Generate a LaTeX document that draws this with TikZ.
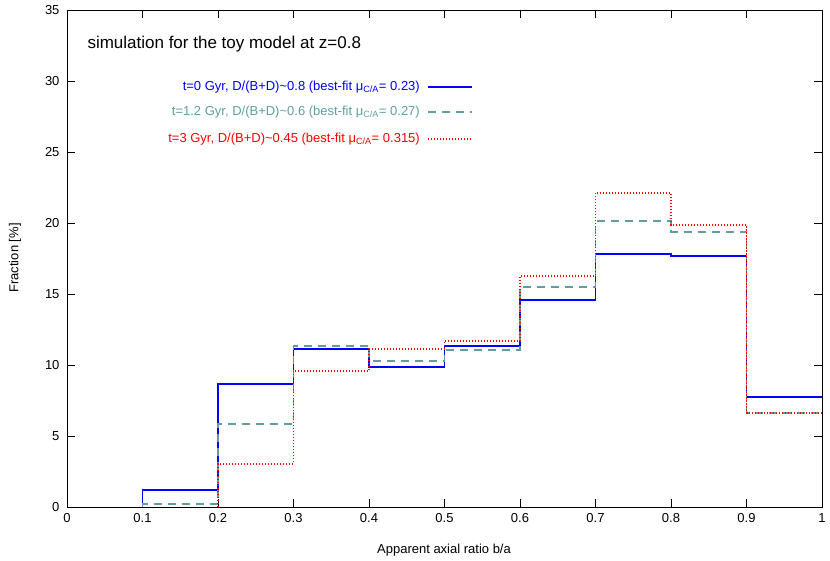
\documentclass[tikz,border=0pt]{standalone}
\usepackage{fontspec}
\setmainfont{Liberation Sans}
\usetikzlibrary{positioning}
\newcommand{\ticklen}{8}
\definecolor{cadet}{RGB}{95,158,160}

\begin{document}
\begin{tikzpicture}[x=1pt,y=1pt,font=\fontsize{13}{15}\selectfont,
    histline/.style={line width=1.4pt},
    tealdash/.style={dash pattern=on 8pt off 6pt},
    reddot/.style={dash pattern=on 1.4pt off 1.6pt}]
    \useasboundingbox (0,0) rectangle (830,561);
    % frame of the plot
    \draw[line width=0.8pt] (67,54) rectangle (822,551);
    % ticks and tick labels
    \foreach \i in {0,...,10} {
        \draw (67+75.5*\i,54) -- ++(0,\ticklen);
        \draw (67+75.5*\i,551) -- ++(0,-\ticklen);
    }
    \foreach \i/\lab in {0/0,1/0.1,2/0.2,3/0.3,4/0.4,5/0.5,6/0.6,7/0.7,8/0.8,9/0.9,10/1}
        \node[below] (xt\i) at (67+75.5*\i,51) {\lab};
    \foreach \i in {0,...,7} {
        \draw (67,54+71*\i) -- ++(\ticklen,0);
        \draw (822,54+71*\i) -- ++(-\ticklen,0);
        \node[left] (yt\i) at (63,54+71*\i) {\number\numexpr5*\i\relax};
    }
    \node[rotate=90] (ylab) at (15,303) {Fraction [\%]};
    \node (xlab) at (444,11) {Apparent axial ratio b/a};
    \node[right,font=\fontsize{17}{19}\selectfont] (title) at (84,517) {simulation for the toy model at z=0.8};

    % histograms
    \begin{scope}[shift={(67,54)},histline]
        \draw[blue] plot[const plot] coordinates {(75.5,0) (75.5,17) (151,123) (226.5,158) (302,140) (377.5,161) (453,207) (528.5,253) (604,251) (679.5,110) (755,110)};
        \draw[cadet,tealdash] plot[const plot] coordinates {(75.5,0) (75.5,3) (151,83) (226.5,161) (302,146) (377.5,157) (453,220) (528.5,286) (604,275) (679.5,94) (755,94)};
        \draw[red,reddot] plot[const plot] coordinates {(151,0) (151,43) (226.5,136) (302,158) (377.5,166) (453,231) (528.5,314) (604,282) (679.5,94) (755,94)};
    \end{scope}

    % legend
    \begin{scope}[every node/.style={left,inner sep=1pt}]
        \node[blue] (la) at (421,474) {t=0 Gyr, D/(B+D)\textasciitilde0.8 (best-fit μ\textsubscript{C/A}= 0.23)};
        \node[cadet] (lb) at (421,449) {t=1.2 Gyr, D/(B+D)\textasciitilde0.6 (best-fit μ\textsubscript{C/A}= 0.27)};
        \node[red] (lc) at (421,422) {t=3 Gyr, D/(B+D)\textasciitilde0.45 (best-fit μ\textsubscript{C/A}= 0.315)};
    \end{scope}
    \draw[blue,histline] ([xshift=7pt]la.east) -- ++(44,0);
    \draw[cadet,histline,tealdash] ([xshift=7pt]lb.east) -- ++(44,0);
    \draw[red,histline,reddot] ([xshift=7pt]lc.east) -- ++(44,0);
\end{tikzpicture}
\end{document}
